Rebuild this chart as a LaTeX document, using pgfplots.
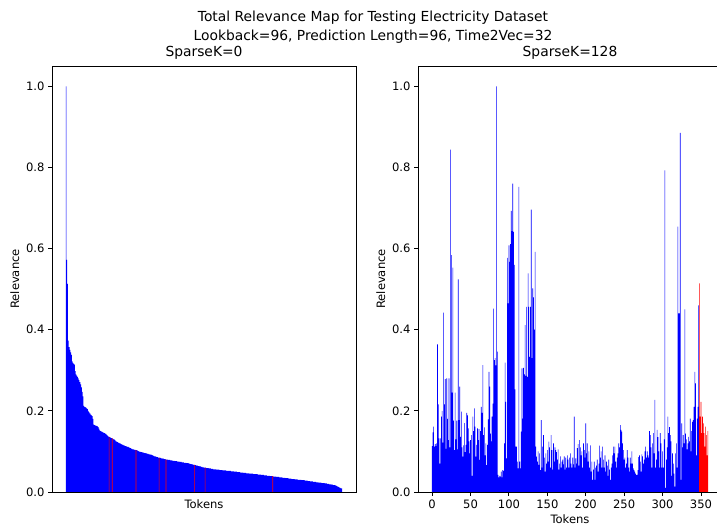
\documentclass[border=0pt]{standalone}
\usepackage{fontspec}
\setmainfont{DejaVu Sans}
\usepackage{pgfplots}
\usepackage{pgfplotstable}
\pgfplotsset{compat=1.18}

% SparseK=0 : sorted relevance of 360 tokens
\pgfplotstableread[row sep=crcr]{
v\\
1.000\\0.572\\0.513\\0.373\\0.357\\0.350\\0.344\\0.338\\0.322\\0.318\\
0.316\\0.314\\0.298\\0.290\\0.287\\0.284\\0.280\\0.276\\0.271\\0.265\\
0.258\\0.247\\0.236\\0.212\\0.210\\0.209\\0.208\\0.206\\0.204\\0.200\\
0.197\\0.194\\0.191\\0.189\\0.187\\0.180\\0.166\\0.165\\0.164\\0.163\\
0.163\\0.162\\0.160\\0.156\\0.152\\0.150\\0.149\\0.148\\0.147\\0.146\\
0.145\\0.144\\0.143\\0.141\\0.139\\0.137\\0.136\\0.135\\0.134\\0.133\\
0.132\\0.131\\0.130\\0.129\\0.127\\0.125\\0.124\\0.123\\0.122\\0.121\\
0.120\\0.119\\0.118\\0.117\\0.116\\0.115\\0.114\\0.113\\0.113\\0.112\\
0.111\\0.111\\0.110\\0.109\\0.108\\0.107\\0.106\\0.105\\0.105\\0.104\\
0.104\\0.103\\0.103\\0.102\\0.101\\0.100\\0.099\\0.099\\0.098\\0.098\\
0.097\\0.097\\0.096\\0.096\\0.095\\0.095\\0.094\\0.094\\0.093\\0.093\\
0.092\\0.092\\0.091\\0.090\\0.089\\0.088\\0.088\\0.087\\0.086\\0.086\\
0.085\\0.085\\0.084\\0.084\\0.083\\0.083\\0.082\\0.082\\0.081\\0.081\\
0.080\\0.080\\0.080\\0.079\\0.079\\0.079\\0.078\\0.078\\0.078\\0.077\\
0.077\\0.077\\0.076\\0.076\\0.076\\0.075\\0.075\\0.075\\0.074\\0.074\\
0.074\\0.073\\0.073\\0.073\\0.072\\0.072\\0.072\\0.071\\0.071\\0.071\\
0.070\\0.070\\0.069\\0.069\\0.068\\0.068\\0.067\\0.067\\0.066\\0.066\\
0.065\\0.065\\0.064\\0.064\\0.063\\0.063\\0.062\\0.062\\0.061\\0.061\\
0.060\\0.060\\0.060\\0.059\\0.059\\0.059\\0.058\\0.058\\0.058\\0.057\\
0.057\\0.057\\0.056\\0.056\\0.056\\0.056\\0.055\\0.055\\0.055\\0.055\\
0.054\\0.054\\0.054\\0.054\\0.053\\0.053\\0.053\\0.053\\0.053\\0.052\\
0.052\\0.052\\0.052\\0.052\\0.052\\0.051\\0.051\\0.051\\0.051\\0.050\\
0.050\\0.050\\0.050\\0.049\\0.049\\0.049\\0.049\\0.048\\0.048\\0.048\\
0.048\\0.047\\0.047\\0.047\\0.047\\0.046\\0.046\\0.046\\0.046\\0.045\\
0.045\\0.045\\0.045\\0.045\\0.044\\0.044\\0.044\\0.044\\0.044\\0.044\\
0.043\\0.043\\0.043\\0.043\\0.042\\0.042\\0.042\\0.042\\0.041\\0.041\\
0.041\\0.041\\0.040\\0.040\\0.040\\0.040\\0.039\\0.039\\0.039\\0.039\\
0.038\\0.038\\0.038\\0.038\\0.037\\0.037\\0.037\\0.037\\0.036\\0.036\\
0.036\\0.036\\0.035\\0.035\\0.035\\0.035\\0.034\\0.034\\0.034\\0.034\\
0.033\\0.033\\0.033\\0.033\\0.032\\0.032\\0.032\\0.032\\0.031\\0.031\\
0.031\\0.031\\0.030\\0.030\\0.030\\0.030\\0.030\\0.029\\0.029\\0.029\\
0.029\\0.028\\0.028\\0.028\\0.028\\0.027\\0.027\\0.027\\0.026\\0.026\\
0.026\\0.026\\0.025\\0.025\\0.025\\0.025\\0.024\\0.024\\0.024\\0.023\\
0.023\\0.023\\0.023\\0.022\\0.022\\0.022\\0.022\\0.021\\0.021\\0.021\\
0.020\\0.020\\0.020\\0.019\\0.019\\0.019\\0.018\\0.018\\0.017\\0.017\\
0.017\\0.016\\0.015\\0.014\\0.013\\0.012\\0.011\\0.010\\0.009\\0.009\\
}\leftdata

% SparseK=128 : tokens 0..347 (blue)
\pgfplotstableread[row sep=crcr]{
v\\
0.113\\0.147\\0.161\\0.112\\0.118\\0.113\\0.120\\0.364\\0.216\\0.132\\
0.070\\0.132\\0.186\\0.200\\0.122\\0.442\\0.216\\0.278\\0.106\\0.280\\
0.180\\0.128\\0.280\\0.110\\0.844\\0.584\\0.245\\0.553\\0.176\\0.103\\
0.245\\0.130\\0.176\\0.105\\0.524\\0.177\\0.260\\0.136\\0.198\\0.110\\
0.087\\0.115\\0.170\\0.098\\0.116\\0.195\\0.189\\0.157\\0.125\\0.095\\
0.128\\0.140\\0.040\\0.186\\0.150\\0.206\\0.161\\0.087\\0.116\\0.157\\
0.128\\0.155\\0.079\\0.150\\0.210\\0.195\\0.313\\0.140\\0.159\\0.090\\
0.120\\0.066\\0.116\\0.179\\0.296\\0.260\\0.144\\0.125\\0.186\\0.218\\
0.452\\0.325\\0.330\\0.312\\1.000\\0.346\\0.042\\0.036\\0.040\\0.038\\
0.050\\0.036\\0.054\\0.052\\0.120\\0.319\\0.222\\0.083\\0.577\\0.465\\
0.608\\0.567\\0.611\\0.693\\0.643\\0.760\\0.641\\0.560\\0.253\\0.112\\
0.112\\0.075\\0.058\\0.752\\0.075\\0.058\\0.149\\0.305\\0.181\\0.306\\
0.290\\0.411\\0.286\\0.456\\0.284\\0.539\\0.456\\0.333\\0.456\\0.696\\
0.330\\0.502\\0.480\\0.400\\0.592\\0.112\\0.087\\0.075\\0.100\\0.067\\
0.095\\0.054\\0.177\\0.060\\0.112\\0.140\\0.085\\0.050\\0.095\\0.070\\
0.103\\0.075\\0.124\\0.110\\0.060\\0.140\\0.103\\0.055\\0.120\\0.075\\
0.110\\0.103\\0.098\\0.080\\0.105\\0.055\\0.070\\0.088\\0.060\\0.075\\
0.080\\0.068\\0.088\\0.055\\0.085\\0.060\\0.090\\0.080\\0.060\\0.085\\
0.095\\0.070\\0.060\\0.085\\0.068\\0.186\\0.060\\0.083\\0.070\\0.108\\
0.118\\0.065\\0.128\\0.110\\0.090\\0.100\\0.060\\0.120\\0.103\\0.085\\
0.169\\0.095\\0.120\\0.075\\0.100\\0.060\\0.115\\0.050\\0.075\\0.030\\
0.055\\0.075\\0.030\\0.060\\0.065\\0.080\\0.050\\0.070\\0.114\\0.085\\
0.100\\0.060\\0.112\\0.080\\0.060\\0.090\\0.050\\0.075\\0.065\\0.040\\
0.080\\0.055\\0.030\\0.060\\0.070\\0.090\\0.112\\0.095\\0.112\\0.075\\
0.060\\0.085\\0.095\\0.120\\0.110\\0.165\\0.153\\0.149\\0.120\\0.103\\
0.080\\0.085\\0.060\\0.070\\0.103\\0.085\\0.060\\0.050\\0.085\\0.070\\
0.100\\0.070\\0.058\\0.054\\0.050\\0.045\\0.042\\0.042\\0.054\\0.086\\
0.090\\0.075\\0.050\\0.093\\0.088\\0.070\\0.080\\0.100\\0.112\\0.085\\
0.100\\0.090\\0.085\\0.150\\0.140\\0.110\\0.060\\0.120\\0.145\\0.095\\
0.227\\0.060\\0.080\\0.153\\0.135\\0.100\\0.060\\0.145\\0.120\\0.060\\
0.100\\0.060\\0.130\\0.793\\0.010\\0.080\\0.110\\0.186\\0.145\\0.160\\
0.140\\0.125\\0.040\\0.095\\0.070\\0.045\\0.013\\0.095\\0.120\\0.060\\
0.654\\0.440\\0.440\\0.885\\0.030\\0.169\\0.110\\0.140\\0.120\\0.450\\
0.144\\0.130\\0.105\\0.120\\0.136\\0.125\\0.181\\0.100\\0.150\\0.173\\
0.177\\0.210\\0.296\\0.268\\0.090\\0.181\\0.210\\0.460\\
}\rightdata

\pgfplotsset{
  relplot/.style={
    scale only axis, width=304bp, height=426bp,
    xmin=-18.4, xmax=377.4, ymin=0, ymax=1.05,
    ytick={0,0.2,0.4,0.6,0.8,1.0},
    yticklabels={0.0,0.2,0.4,0.6,0.8,1.0},
    tick align=outside,
    major tick length=4bp,
    every tick/.style={black, line width=0.9bp},
    axis line style={black, line width=0.9bp},
    tick label style={font=\fontsize{11.6}{13}\selectfont},
    label style={font=\fontsize{11.6}{13}\selectfont},
    every axis title/.style={at={(0.5,1)}, anchor=base, yshift=9bp,
      font=\fontsize{13.9}{16}\selectfont},
    xlabel={Tokens}, ylabel={Relevance},
    ytick pos=left, xtick pos=bottom,
  },
  bluebar/.style={ybar, bar width=0.8, bar shift=0pt, fill=blue, draw=none},
  redbar/.style={ybar, bar width=0.8, bar shift=0pt, fill=red, draw=none},
}

\begin{document}
\begin{tikzpicture}
\begin{axis}[relplot, at={(52bp,36bp)}, anchor=south west,
  title={SparseK=0}, xtick=\empty]
\addplot[bluebar] table[x expr=\coordindex, y=v] {\leftdata};
\addplot[redbar] coordinates {(56,0.136) (60,0.132) (91,0.103) (121,0.085)
  (130,0.080) (167,0.067) (181,0.060) (269,0.039)};
\end{axis}
\begin{axis}[relplot, at={(418bp,36bp)}, anchor=south west,
  title={SparseK=128}, xtick={0,50,100,150,200,250,300,350},
  xticklabels={0,50,100,150,200,250,300,350}]
\addplot[bluebar] table[x expr=\coordindex, y=v] {\rightdata};
\addplot[redbar] coordinates {(348,0.514) (349,0.186) (350,0.222) (351,0.145)
  (352,0.186) (353,0.169) (354,0.145) (355,0.112) (356,0.161) (357,0.140)
  (358,0.090) (359,0.150)};
\end{axis}
\node[font=\fontsize{13.9}{16}\selectfont, anchor=base] at (373bp,506bp)
  {Total Relevance Map for Testing Electricity Dataset};
\node[font=\fontsize{13.9}{16}\selectfont, anchor=base] at (373bp,487bp)
  {Lookback=96, Prediction Length=96, Time2Vec=32};
\pgfresetboundingbox
\useasboundingbox (0,0) rectangle (717bp,528bp);
\end{tikzpicture}
\end{document}
